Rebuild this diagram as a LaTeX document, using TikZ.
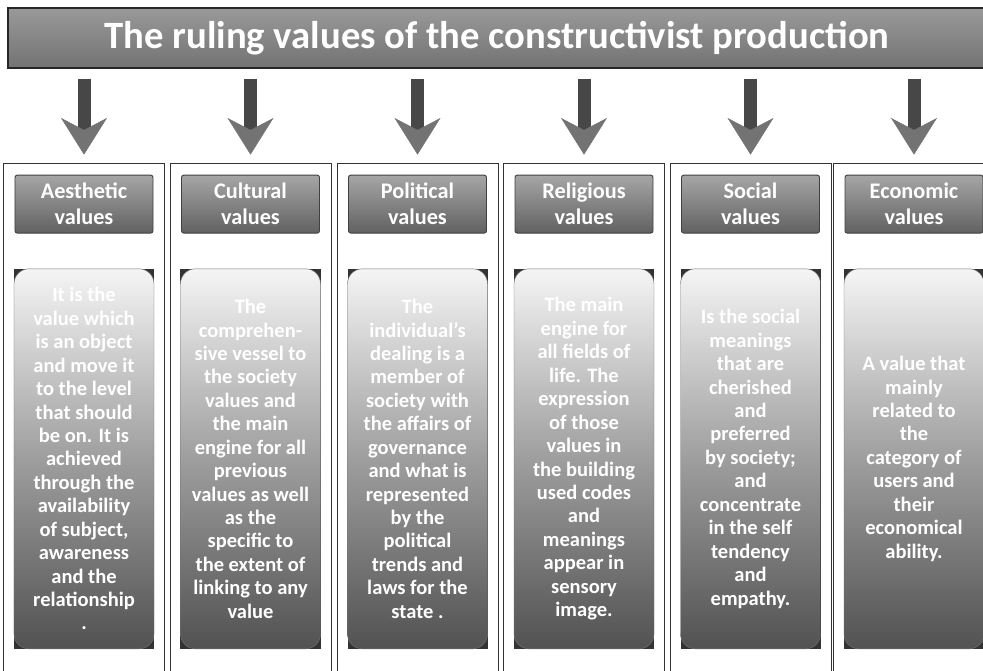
\documentclass[tikz,border=0pt]{standalone}
\usepackage{fontspec}
\setmainfont{Carlito}
\usetikzlibrary{positioning}
\usetikzlibrary{arrows.meta}
\tikzstyle{banner}=[draw=black!85, line width=1.2pt, top color=black!40, bottom color=black!55, minimum width=29.34cm, minimum height=1.8cm, text=white, font=\fontsize{33}{36}\selectfont\bfseries]
\tikzstyle{column}=[draw=black!80, semithick, minimum width=4.83cm, minimum height=15.36cm]
\tikzstyle{heading}=[draw=black!75, thick, top color=black!35, bottom color=black!62, rounded corners=2pt, minimum width=4.14cm, minimum height=1.74cm, text=white, align=center, font=\fontsize{19}{22}\selectfont\bfseries]
\tikzstyle{panel frame}=[fill=black!80, minimum width=4.2cm, minimum height=11.4cm]
\tikzstyle{panel}=[draw=black!55, top color=black!4, bottom color=black!68, middle color=black!38, rounded corners=0.45cm, minimum width=4.2cm, minimum height=11.4cm, text=white, align=center, font=\fontsize{17.5}{20}\selectfont\bfseries]
\tikzstyle{flow}=[line width=0.39cm, black!72, -{Stealth[length=1.1cm, width=1.38cm, inset=0.36cm, line width=0.4pt, color=black!55]}, shorten <=0.3cm, shorten >=0.24cm]

\begin{document}
\begin{tikzpicture}[x=0.03cm, y=-0.03cm]
  \useasboundingbox (0, 0) rectangle (983, 670);

  \node[banner] (banner) at (497, 38) {The ruling values of the constructivist production};

  \node[column] (col1) at (84, 419) {};
  \node[column] (col2) at (250.5, 419) {};
  \node[column] (col3) at (417.5, 419) {};
  \node[column] (col4) at (584, 419) {};
  \node[column] (col5) at (750.5, 419) {};
  \node[column] (col6) at (914, 419) {};

  \node[heading, below=0.36cm of col1.north] (hdr1) {Aesthetic\\values};
  \node[heading, below=0.36cm of col2.north] (hdr2) {Cultural\\values};
  \node[heading, below=0.36cm of col3.north] (hdr3) {Political\\values};
  \node[heading, below=0.36cm of col4.north] (hdr4) {Religious\\values};
  \node[heading, below=0.36cm of col5.north] (hdr5) {Social\\values};
  \node[heading, below=0.36cm of col6.north] (hdr6) {Economic\\values};

  \node[panel frame, below=1.05cm of hdr1] (frame1) {};
  \node[panel] (panel1) at (frame1) {It is the\\value which\\is an object\\and move it\\to the level\\that should\\be on. It is\\achieved\\through the\\availability\\of subject,\\awareness\\and the\\relationship\\.};
  \node[panel frame, below=1.05cm of hdr2] (frame2) {};
  \node[panel] (panel2) at (frame2) {The\\comprehen-\\sive vessel to\\the society\\values and\\the main\\engine for all\\previous\\values as well\\as the\\specific to\\the extent of\\linking to any\\value};
  \node[panel frame, below=1.05cm of hdr3] (frame3) {};
  \node[panel] (panel3) at (frame3) {The\\individual's\\dealing is a\\member of\\society with\\the affairs of\\governance\\and what is\\represented\\by the\\political\\trends and\\laws for the\\state .};
  \node[panel frame, below=1.05cm of hdr4] (frame4) {};
  \node[panel] (panel4) at (frame4) {The main\\engine for\\all fields of\\life. The\\expression\\of those\\values in\\the building\\used codes\\and\\meanings\\appear in\\sensory\\image.};
  \node[panel frame, below=1.05cm of hdr5] (frame5) {};
  \node[panel] (panel5) at (frame5) {Is the social\\meanings\\that are\\cherished\\and\\preferred\\by society;\\and\\concentrate\\in the self\\tendency\\and\\empathy.};
  \node[panel frame, below=1.05cm of hdr6] (frame6) {};
  \node[panel] (panel6) at (frame6) {A value that\\mainly\\related to\\the\\category of\\users and\\their\\economical\\ability.};

  \foreach \i in {1,...,6}
    \draw[flow] (banner.south -| col\i.north) -- (col\i.north);
\end{tikzpicture}
\end{document}
